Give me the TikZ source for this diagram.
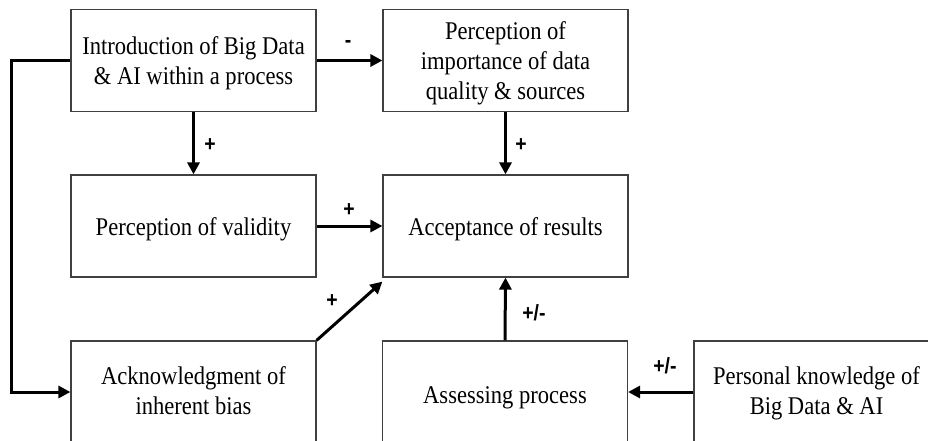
\documentclass[tikz,border=0pt]{standalone}
\usepackage{fontspec}
\setmainfont{Liberation Serif}[FakeStretch=0.885]
\newfontfamily\lblfont{Liberation Sans}[FakeStretch=0.885]
\usetikzlibrary{arrows.meta,calc}
\newcommand\boxtxt[2][3pt]{\raisebox{-#1}[\height][\depth]{\begin{tabular}{@{}c@{}}#2\end{tabular}}}
\tikzset{
  box/.style={draw=black!75, line width=1.2pt, rectangle, minimum width=245pt, minimum height=102pt,
    inner sep=0pt, align=center, font=\fontsize{25.5pt}{30pt}\selectfont},
  conn/.style={line width=3pt, -{Triangle[length=12pt,width=12pt]}},
  sign/.style={font=\lblfont\bfseries\fontsize{22pt}{24pt}\selectfont, inner sep=0pt}
}
\begin{document}
\begin{tikzpicture}[x=1pt,y=-1pt]
\useasboundingbox (0,0) rectangle (928,441);
\clip (0,0) rectangle (928,441);
\fill[white] (0,0) rectangle (928,441);
\node[box] (intro) at (193.5,60.5) {\boxtxt{Introduction of Big Data\\\& AI within a process}};
\node[box] (imp) at (505.5,60.5) {\boxtxt{Perception of\\importance of data\\quality \& sources}};
\node[box] (val) at (193.5,226) {\boxtxt{Perception of validity}};
\node[box] (acc) at (505.5,226) {\boxtxt{Acceptance of results}};
\node[box] (ack) at (193.5,392) {\boxtxt[1pt]{Acknowledgment of\\inherent bias}};
\node[box] (ass) at (505,392) {\boxtxt[5pt]{Assessing process}};
\node[box] (pers) at (816.5,392) {\boxtxt[1pt]{Personal knowledge of\\Big Data \& AI}};
\draw[conn] (intro.east) -- (imp.west);
\draw[conn] (intro.south) -- (val.north);
\draw[conn] (imp.south) -- (acc.north);
\draw[conn] (val.east) -- (acc.west);
\draw[conn] (ack.north east) -- ($(acc.south west)+(0,4)$);
\draw[conn] (ass.north) -- (acc.south);
\draw[conn] (pers.west) -- (ass.east);
\draw[conn] (intro.west) -- ++(-59,0) |- (ack.west);
\node[sign] (s1) at (348,44) {-};
\node[sign] (s2) at (210,145) {+};
\node[sign] (s3) at (521,145) {+};
\node[sign] (s4) at (349,210) {+};
\node[sign] (s5) at (332,301) {+};
\node[sign] (s6) at (534,313) {+/-};
\node[sign] (s7) at (665,366) {+/-};
\end{tikzpicture}
\end{document}
